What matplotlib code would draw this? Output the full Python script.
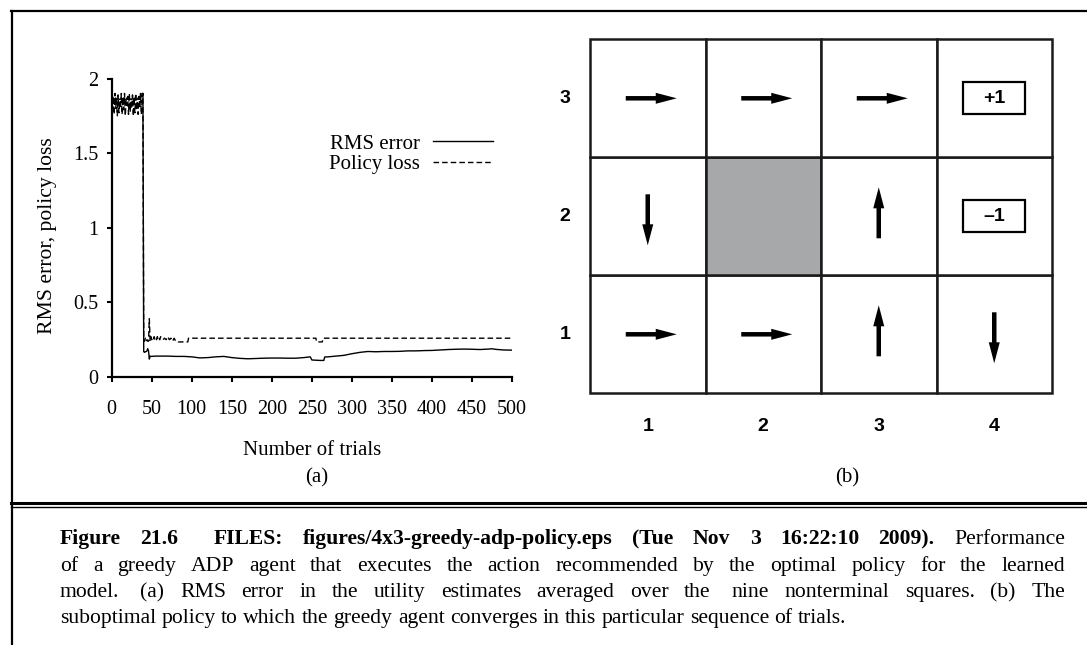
import matplotlib
matplotlib.use("Agg")
import matplotlib.pyplot as plt
from matplotlib.lines import Line2D
from matplotlib.patches import Rectangle

# ---------------- data (a) ----------------
# trials 0..49 one value per trial, then sparser readings
rms_trials = list(range(0, 50)) + [55, 60, 70, 80, 90, 100, 110, 120, 130, 140, 150, 160, 170, 180,
                                   190, 200, 210, 220, 230, 240, 248, 250, 260, 265, 266, 270, 280,
                                   290, 300, 310, 320, 330, 340, 350, 360, 370, 380, 390, 400, 410,
                                   420, 430, 440, 450, 460, 470, 475, 480, 490, 500]
rms_error = [2.0, 1.86, 1.87, 1.86, 1.86, 1.87, 1.86, 1.86, 1.87, 1.86,
             1.86, 1.86, 1.87, 1.86, 1.86, 1.87, 1.86, 1.86, 1.86, 1.87,
             1.86, 1.86, 1.87, 1.86, 1.86, 1.86, 1.87, 1.86, 1.86, 1.87,
             1.86, 1.86, 1.86, 1.87, 1.86, 1.86, 1.87, 1.88, 1.9, 1.9,
             0.17, 0.165, 0.17, 0.17, 0.175, 0.19, 0.175, 0.12, 0.14, 0.138,
             0.14, 0.14, 0.14, 0.138, 0.138, 0.135, 0.128, 0.13, 0.135, 0.138,
             0.13, 0.125, 0.122, 0.124, 0.126, 0.127, 0.127, 0.126, 0.126, 0.13,
             0.135, 0.114, 0.111, 0.111, 0.134, 0.135, 0.14, 0.145, 0.156, 0.165,
             0.171, 0.169, 0.171, 0.171, 0.172, 0.175, 0.175, 0.177, 0.178, 0.181,
             0.184, 0.186, 0.187, 0.186, 0.184, 0.187, 0.189, 0.185, 0.181, 0.18]

pl_trials = list(range(0, 62)) + [64, 66, 68, 70, 72, 74, 76, 78, 80, 82, 83, 95, 96,
                                  255, 256, 263, 264, 500]
policy_loss = [1.9, 1.78, 1.88, 1.76, 1.9, 1.8, 1.86, 1.75, 1.89, 1.77,
               1.85, 1.8, 1.9, 1.76, 1.87, 1.79, 1.9, 1.75, 1.86, 1.82,
               1.88, 1.76, 1.9, 1.78, 1.84, 1.8, 1.89, 1.75, 1.87, 1.77,
               1.9, 1.79, 1.85, 1.76, 1.88, 1.8, 1.9, 1.76, 1.86, 1.9,
               0.24, 0.24, 0.26, 0.24, 0.25, 0.24, 0.24, 0.39, 0.24, 0.27,
               0.25, 0.26, 0.25, 0.27, 0.25, 0.26, 0.25, 0.27, 0.25, 0.26,
               0.25, 0.27, 0.25, 0.26, 0.25, 0.27, 0.25, 0.26, 0.24, 0.26,
               0.24, 0.24, 0.235, 0.235, 0.26,
               0.26, 0.235, 0.235, 0.26, 0.26]

x_ticks = [0, 50, 100, 150, 200, 250, 300, 350, 400, 450, 500]
y_ticks = [0, 0.5, 1, 1.5, 2]
y_tick_labels = ["0", "0.5", "1", "1.5", "2"]

# ---------------- data (b) ----------------
grid_cols = [1, 2, 3, 4]
grid_rows = [1, 2, 3]
wall_cell = (2, 2)
# (column, row, direction)
policy = [(1, 3, "right"), (2, 3, "right"), (3, 3, "right"),
          (1, 2, "down"), (3, 2, "up"),
          (1, 1, "right"), (2, 1, "right"), (3, 1, "up"), (4, 1, "down")]
terminals = [(4, 3, "+1"), (4, 2, "\u20131")]

caption = [
    [("Figure", "bold"), ("21.6", "bold"), ("FILES:", "bold"), ("figures/4x3-greedy-adp-policy.eps", "bold"),
     ("(Tue", "bold"), ("Nov", "bold"), ("3", "bold"), ("16:22:10", "bold"), ("2009).", "bold"),
     ("Performance", "normal")],
    "of a greedy ADP agent that executes the action recommended by the optimal policy for the learned",
    "model.  (a) RMS error in the utility estimates averaged over the nine nonterminal squares.  (b) The",
    "suboptimal policy to which the greedy agent converges in this particular sequence of trials.",
]

W, H = 1087, 645
SERIF = "Liberation Serif"
SANS = "Liberation Sans"

fig = plt.figure(figsize=(W / 100, H / 100), dpi=100)
renderer = fig.canvas.get_renderer()


def fx(px):
    return px / W


def fy(py):
    return 1 - py / H


# ---------------- panel (a) ----------------
ax_l, ax_r, ax_t, ax_b = 111.7, 512, 78.5, 377
ax = fig.add_axes([fx(ax_l), fy(ax_b), fx(ax_r - ax_l), (ax_b - ax_t) / H])
ax.plot(rms_trials, rms_error, color="black", lw=1.0, label="RMS error")
ax.plot(pl_trials, policy_loss, color="black", lw=1.0, linestyle=(0, (4, 2.2)), label="Policy loss")
ax.set_xlim(0, 500)
ax.set_ylim(0, 2)
ax.set_xticks(x_ticks)
ax.set_xticklabels([str(t) for t in x_ticks], family=SERIF, fontsize=14.5)
ax.set_yticks(y_ticks)
ax.set_yticklabels(y_tick_labels, family=SERIF, fontsize=14.5)
for s in ["top", "right"]:
    ax.spines[s].set_visible(False)
for s in ["left", "bottom"]:
    ax.spines[s].set_linewidth(1.6)
ax.tick_params(direction="out", length=3.5, width=1.5, pad=6)
ax.tick_params(axis="x", pad=13)
ax.set_ylabel("RMS error, policy loss", family=SERIF, fontsize=15.6)
ax.yaxis.set_label_coords((57 - ax_l) / (ax_r - ax_l), (ax_b - 236) / (ax_b - ax_t))
ax.set_xlabel("Number of trials", family=SERIF, fontsize=15)
ax.xaxis.set_label_coords((312 - ax_l) / (ax_r - ax_l), (ax_b - 441) / (ax_b - ax_t))
ax.legend(loc="upper right", bbox_to_anchor=(fx(493), fy(134)), bbox_transform=fig.transFigure,
          frameon=False, markerfirst=False, borderpad=0, borderaxespad=0, handlelength=2.9,
          handletextpad=0.6, labelspacing=0.05, prop={"family": SERIF, "size": 15})

fig.text(fx(317), fy(478), "(a)", family=SERIF, fontsize=15, ha="center", va="center")

# ---------------- panel (b) ----------------
g_l, g_r, g_t, g_b = 590, 1052, 39.3, 393.3
gx = fig.add_axes([fx(g_l), fy(g_b), fx(g_r - g_l), (g_b - g_t) / H])
gx.set_xlim(0, len(grid_cols))
gx.set_ylim(0, len(grid_rows))
gx.axis("off")
px_x = (g_r - g_l) / len(grid_cols)   # pixels per column
px_y = (g_b - g_t) / len(grid_rows)   # pixels per row

for c in grid_cols:
    for r in grid_rows:
        fc = "#a7a8aa" if (c, r) == wall_cell else "white"
        gx.add_patch(Rectangle((c - 1, r - 1), 1, 1, facecolor=fc, edgecolor="#1a1a1a",
                               lw=1.8, clip_on=False))

# arrow shape in pixels: tail offset, length, shaft width, head width, head length
a_tail, a_len, a_w, a_hw, a_hl = 22, 51, 4.5, 11, 21
dirs = {"right": (1, 0), "left": (-1, 0), "up": (0, 1), "down": (0, -1)}
for c, r, d in policy:
    dx, dy = dirs[d]
    cx, cy = c - 0.5, r - 0.5
    along = px_x if dx else px_y
    across = px_y if dx else px_x
    gx.arrow(cx - a_tail / along * dx, cy - a_tail / along * dy,
             a_len / along * dx, a_len / along * dy, width=a_w / across,
             head_width=a_hw / across, head_length=a_hl / along,
             length_includes_head=True, color="black", lw=0)

for c, r, lab in terminals:
    bw, bh = 62 / px_x, 32 / px_y
    gx.add_patch(Rectangle((c - 0.5 - bw / 2, r - 0.5 - bh / 2), bw, bh, facecolor="white",
                           edgecolor="black", lw=1.6))
    gx.text(c - 0.5, r - 0.5, lab, family=SANS, weight="bold", fontsize=14,
            ha="center", va="center")

for r in grid_rows:
    gx.text(-25 / px_x, r - 0.5, str(r), family=SANS, weight="bold", fontsize=14,
            ha="center", va="center")
for c in grid_cols:
    gx.text(c - 0.5, -33 / px_y, str(c), family=SANS, weight="bold", fontsize=14,
            ha="center", va="center", clip_on=False)

fig.text(fx(847), fy(478), "(b)", family=SERIF, fontsize=15, ha="center", va="center")

# ---------------- frame ----------------
fig.add_artist(Line2D([fx(12), fx(12)], [fy(11), 0], color="black", lw=1.6))
fig.add_artist(Line2D([fx(11), 1], [fy(11), fy(11)], color="black", lw=1.6))
fig.add_artist(Line2D([fx(11), 1], [fy(503.2), fy(503.2)], color="black", lw=2.2))
fig.add_artist(Line2D([fx(11), 1], [fy(506.7), fy(506.7)], color="black", lw=1.0))

# ---------------- caption (justified) ----------------
cap_left, cap_right = 60, 1065
baselines = [544, 571, 597, 623]
cap_size = 15.6


def text_width(s, size, weight="normal"):
    t = fig.text(0, 0, s, family=SERIF, weight=weight, fontsize=size)
    w = t.get_window_extent(renderer).width
    t.remove()
    return w


space_w = text_width("a a", cap_size) - 2 * text_width("a", cap_size)

for i, line in enumerate(caption):
    if isinstance(line, str):
        words = [(w, "normal") for w in line.split(" ") if w]
    else:
        words = line
    texts = []
    widths = []
    for w, wt in words:
        t = fig.text(0, fy(baselines[i]), w, family=SERIF, weight=wt, fontsize=cap_size, va="baseline")
        texts.append(t)
        widths.append(t.get_window_extent(renderer).width)
    extra = [0.0] * len(words)
    if i == 0:
        extra[1] = 3 * space_w  # quad after the figure number
    if i == 2:
        extra[0] = space_w
        extra[10] = space_w
    if i < len(caption) - 1:
        gap = (cap_right - cap_left - sum(widths) - sum(extra)) / (len(words) - 1)
    else:
        gap = space_w
    x = cap_left
    for t, wd, ex in zip(texts, widths, extra):
        t.set_x(fx(x))
        x += wd + gap + ex

fig.savefig("out.png", dpi=100)
